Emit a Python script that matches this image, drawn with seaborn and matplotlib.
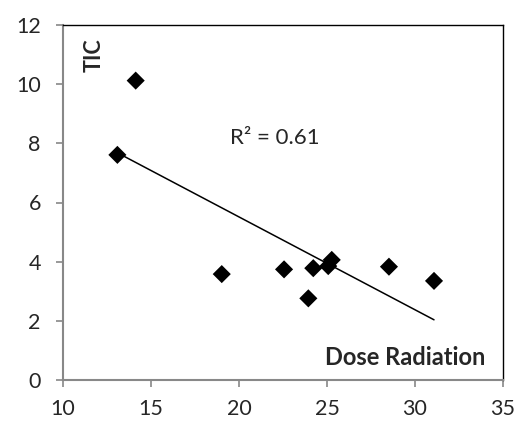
import matplotlib
matplotlib.use("Agg")
import matplotlib.pyplot as plt
import seaborn as sns
import numpy as np
import pandas as pd

dose = [14.13, 13.09, 19.02, 22.56, 24.22, 23.94, 25.07, 25.27, 28.52, 31.08]
tic = [10.12, 7.61, 3.58, 3.74, 3.78, 2.76, 3.85, 4.06, 3.83, 3.35]
x_ticks = [10, 15, 20, 25, 30, 35]
y_ticks = [0, 2, 4, 6, 8, 10, 12]

sns.set_style("white")
plt.rcParams['font.family'] = ['Lato', 'DejaVu Sans']

df = pd.DataFrame({"dose": dose, "tic": tic})
fig = plt.figure(figsize=(5.19, 4.24), dpi=100)
ax = fig.add_axes([63/519, 1-380/424, 440/519, 355/424])

sns.regplot(data=df, x="dose", y="tic", ax=ax, ci=None, marker="D",
            scatter_kws=dict(s=85, color="black", edgecolor="none", alpha=1, zorder=3),
            line_kws=dict(color="black", lw=1.1, zorder=2))

ax.set_xlim(10, 35)
ax.set_ylim(0, 12)
ax.set_xticks(x_ticks)
ax.set_yticks(y_ticks)
ax.set_xlabel("")
ax.set_ylabel("")
ax.tick_params(axis="both", labelsize=15.5, length=5, width=1.2, color="#888888",
               direction="out", left=True, bottom=True)
ax.tick_params(axis="x", pad=9)
ax.tick_params(axis="y", pad=11)
for side in ["left", "bottom"]:
    ax.spines[side].set_color("#888888")
    ax.spines[side].set_linewidth(1.5)
for side in ["top", "right"]:
    ax.spines[side].set_color("black")
    ax.spines[side].set_linewidth(1.0)

r = np.corrcoef(dose, tic)[0, 1]
ax.text(0.38, 0.683, f"R² = {r**2:.2f}", transform=ax.transAxes, fontsize=16,
        ha="left", va="center")
ax.text(0.07, 0.915, "TIC", transform=ax.transAxes, fontsize=15.5, fontweight="bold",
        rotation=90, ha="center", va="center")
ax.text(0.961, 0.062, "Dose Radiation", transform=ax.transAxes, fontsize=17,
        fontweight="bold", ha="right", va="center")

fig.savefig("out.png", dpi=100)
